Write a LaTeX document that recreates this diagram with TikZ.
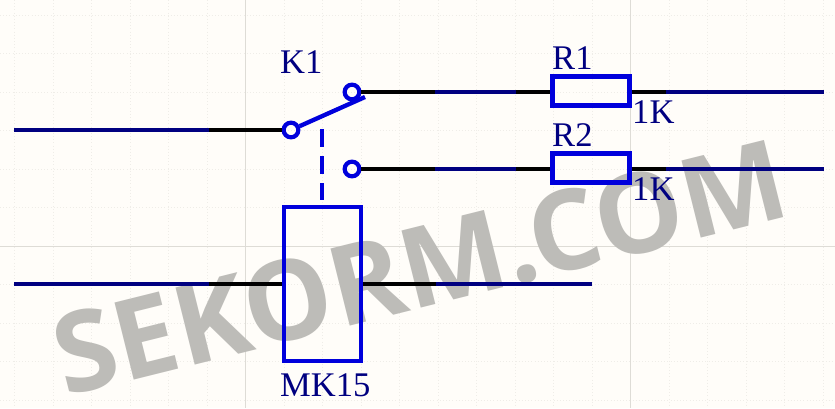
\documentclass[tikz,border=0pt]{standalone}
\usepackage{fontspec}
\setmainfont{Liberation Serif}
\newfontfamily\markfont{Open Sans}
\definecolor{paper}{HTML}{FFFDF9}
\definecolor{gridline}{HTML}{DEDCD6}
\definecolor{griddot}{HTML}{EFEDE8}
\definecolor{partblue}{HTML}{0000DC}
\definecolor{netblue}{HTML}{000080}
\definecolor{markgray}{HTML}{BDBCB8}
\tikzset{
  wire/.style={line width=3.4pt,black},
  net/.style={line width=3.4pt,netblue},
  contact/.style={circle,draw=partblue,line width=3.6pt,inner sep=0pt,minimum size=0.44cm},
  part/.style={rectangle,draw=partblue,line width=3.7pt,inner sep=0pt},
  ref/.style={text=netblue,font=\fontsize{29.5}{30}\selectfont,inner sep=0pt},
}
\begin{document}
\begin{tikzpicture}[x=0.03cm,y=-0.03cm]
    \useasboundingbox[fill=paper] (0,0) rectangle (835,408);
    %% grid
    \foreach \gx in {14.5,53,91.5,130,168.5,207,284,322.5,361,399.5,438,476.5,515,553.5,592,669,707.5,746,784.5,823}
    \draw[griddot,line width=0.7pt,dotted] (\gx,0) -- (\gx,408);
    \foreach \gy in {15,53.5,92,130.5,169,207.5,284.5,323,361.5,400}
    \draw[griddot,line width=0.7pt,dotted] (0,\gy) -- (835,\gy);
    \draw[gridline,line width=0.7pt] (245,0) -- (245,408);
    \draw[gridline,line width=0.7pt] (630,0) -- (630,408);
    \draw[gridline,line width=0.7pt] (0,246) -- (835,246);
    %% watermark
    \node (mark) [anchor=base west,rotate=14,inner sep=0pt,text=markgray,
      font=\markfont\bfseries\fontsize{95}{95}\selectfont] at (65,397) {SEKORM.COM};
    %% parts
    \node (K1com) [contact] at (291,130) {};
    \node (K1no) [contact] at (352,92) {};
    \node (K1nc) [contact] at (352,169) {};
    \node (R1) [part,minimum width=2.31cm,minimum height=0.87cm] at (591,91) {};
    \node (R2) [part,minimum width=2.31cm,minimum height=0.87cm] at (591,168) {};
    \node (coil) [part,minimum width=2.31cm,minimum height=4.62cm] at (322.5,284) {};
    %% labels
    \node (K1lab) [ref,anchor=base west] at (280,73) {K1};
    \node (R1lab) [ref,anchor=base west] at (552,69) {R1};
    \node (R2lab) [ref,anchor=base west] at (552,146) {R2};
    \node (R1val) [ref,anchor=base west] at (632,123) {1K};
    \node (R2val) [ref,anchor=base west] at (632,200) {1K};
    \node (coillab) [ref,anchor=base west] at (280,396) {MK15};
    %% wire ends
    \coordinate (inA) at (14,130);
    \coordinate (inB) at (209,130);
    \coordinate (noA) at (435,92);
    \coordinate (noB) at (516,92);
    \coordinate (ncA) at (435,169);
    \coordinate (ncB) at (516,169);
    \coordinate (outA) at (666,92);
    \coordinate (outB) at (824,92);
    \coordinate (outC) at (666,169);
    \coordinate (outD) at (824,169);
    \coordinate (coilA) at (14,284);
    \coordinate (coilB) at (209,284);
    \coordinate (coilC) at (436,284);
    \coordinate (coilD) at (592,284);
    \coordinate (blade) at (365,97);
    \coordinate (linkA) at (322,129);
    \coordinate (linkB) at (322,200);
    %% wires
    \draw[net] (inA) -- (inB);
    \draw[wire] (inB) -- (K1com.west);
    \draw[wire] (K1no.east) -- (noA);
    \draw[net] (noA) -- (noB);
    \draw[wire] (noB) -- (R1.west |- noB);
    \draw[wire] (R1.east |- outA) -- (outA);
    \draw[net] (outA) -- (outB);
    \draw[wire] (K1nc.east) -- (ncA);
    \draw[net] (ncA) -- (ncB);
    \draw[wire] (ncB) -- (R2.west |- ncB);
    \draw[wire] (R2.east |- outC) -- (outC);
    \draw[net] (outC) -- (outD);
    \draw[net] (coilA) -- (coilB);
    \draw[wire] (coilB) -- (coil.west |- coilB);
    \draw[wire] (coil.east |- coilC) -- (coilC);
    \draw[net] (coilC) -- (coilD);
    %% switch
    \draw[partblue,line width=3.7pt] (K1com) -- (blade);
    \draw[partblue,line width=3.7pt,dash pattern=on 0.54cm off 0.27cm] (linkA) -- (linkB);
\end{tikzpicture}
\end{document}
